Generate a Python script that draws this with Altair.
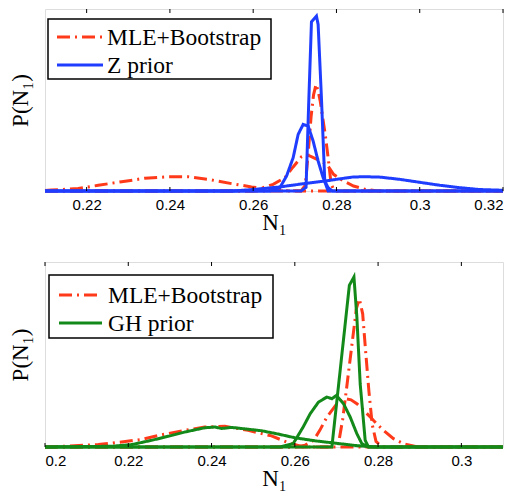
import altair as alt
import pandas as pd

# ---------------- values ----------------
top_ticks = [0.22, 0.24, 0.26, 0.28, 0.30, 0.32]
bot_ticks = [0.20, 0.22, 0.24, 0.26, 0.28, 0.30]

top_methods = ["MLE+Bootstrap", "Z prior"]
bot_methods = ["MLE+Bootstrap", "GH prior"]

# top panel: MLE+Bootstrap
t_mle_a_x = [0.210, 0.2116, 0.218, 0.2228, 0.2284, 0.234, 0.2396, 0.2444, 0.2492, 0.2548, 0.2596, 0.264, 0.268, 0.272, 0.320]
t_mle_a_y = [0.003, 0.005, 0.013, 0.031, 0.050, 0.069, 0.077, 0.077, 0.063, 0.040, 0.022, 0.008, 0.002, 0.0, 0.0]
t_mle_b_x = [0.210, 0.260, 0.2624, 0.2648, 0.2676, 0.2696, 0.2716, 0.2727, 0.2737, 0.2755, 0.2777, 0.2793, 0.2817, 0.2841, 0.287, 0.290, 0.320]
t_mle_b_y = [0.0, 0.0, 0.018, 0.036, 0.072, 0.130, 0.185, 0.195, 0.189, 0.170, 0.144, 0.090, 0.054, 0.027, 0.008, 0.0, 0.0]
t_mle_c_x = [0.210, 0.2715, 0.2725, 0.2732, 0.2739, 0.2745, 0.2751, 0.2756, 0.2761, 0.2773, 0.2781, 0.2787, 0.2795, 0.320]
t_mle_c_y = [0.0, 0.0, 0.030, 0.200, 0.400, 0.520, 0.577, 0.540, 0.486, 0.306, 0.162, 0.040, 0.0, 0.0]

# top panel: Z prior
t_pri_a_x = [0.210, 0.255, 0.260, 0.2664, 0.2729, 0.2776, 0.2809, 0.2841, 0.2872, 0.2905, 0.2952, 0.300, 0.3048, 0.3096, 0.3144, 0.320]
t_pri_a_y = [0.0, 0.0, 0.008, 0.022, 0.042, 0.055, 0.066, 0.076, 0.077, 0.075, 0.063, 0.047, 0.031, 0.018, 0.008, 0.004]
t_pri_b_x = [0.210, 0.264, 0.2664, 0.268, 0.2696, 0.2708, 0.272, 0.2732, 0.2744, 0.2756, 0.2768, 0.278, 0.279, 0.320]
t_pri_b_y = [0.0, 0.0, 0.018, 0.080, 0.180, 0.306, 0.360, 0.351, 0.270, 0.162, 0.072, 0.018, 0.0, 0.0]
t_pri_c_x = [0.210, 0.2715, 0.2727, 0.2733, 0.274, 0.2752, 0.2756, 0.2764, 0.2772, 0.278, 0.320]
t_pri_c_y = [0.0, 0.0, 0.020, 0.450, 0.915, 0.946, 0.900, 0.500, 0.050, 0.0, 0.0]

# bottom panel: MLE+Bootstrap
b_mle_a_x = [0.200, 0.2008, 0.2128, 0.2184, 0.2232, 0.228, 0.2336, 0.2384, 0.2432, 0.2488, 0.2544, 0.258, 0.262, 0.310]
b_mle_a_y = [0.0, 0.0, 0.013, 0.027, 0.041, 0.066, 0.090, 0.108, 0.112, 0.090, 0.060, 0.027, 0.0, 0.0]
b_mle_b_x = [0.200, 0.260, 0.2625, 0.2645, 0.266, 0.2677, 0.2701, 0.2721, 0.2735, 0.2749, 0.2765, 0.2781, 0.2797, 0.2813, 0.2837, 0.2861, 0.289, 0.292, 0.310]
b_mle_b_y = [0.0, 0.0, 0.010, 0.036, 0.090, 0.162, 0.234, 0.261, 0.255, 0.234, 0.200, 0.162, 0.125, 0.090, 0.045, 0.018, 0.003, 0.0, 0.0]
b_mle_c_x = [0.200, 0.269, 0.2705, 0.2715, 0.2725, 0.2737, 0.2748, 0.2755, 0.2763, 0.277, 0.2778, 0.2786, 0.2795, 0.281, 0.310]
b_mle_c_y = [0.0, 0.0, 0.020, 0.150, 0.330, 0.550, 0.750, 0.800, 0.720, 0.520, 0.300, 0.120, 0.030, 0.0, 0.0]

# bottom panel: GH prior
b_pri_a_x = [0.200, 0.216, 0.2208, 0.2256, 0.2296, 0.2336, 0.2384, 0.2408, 0.2424, 0.2448, 0.248, 0.252, 0.256, 0.260, 0.265, 0.270, 0.275, 0.280, 0.310]
b_pri_a_y = [0.0, 0.004, 0.013, 0.036, 0.058, 0.081, 0.104, 0.108, 0.100, 0.106, 0.098, 0.088, 0.070, 0.050, 0.033, 0.020, 0.007, 0.0, 0.0]
b_pri_b_x = [0.200, 0.2564, 0.2596, 0.262, 0.2637, 0.2657, 0.2677, 0.2689, 0.270, 0.2717, 0.2733, 0.2749, 0.2761, 0.2777, 0.310]
b_pri_b_y = [0.0, 0.0, 0.018, 0.108, 0.180, 0.243, 0.270, 0.261, 0.279, 0.234, 0.162, 0.072, 0.018, 0.0, 0.0]
b_pri_c_x = [0.200, 0.2689, 0.2731, 0.2742, 0.2749, 0.2757, 0.2769, 0.2777, 0.310]
b_pri_c_y = [0.0, 0.0, 0.874, 0.919, 0.703, 0.342, 0.036, 0.0, 0.0]

RED = "#ff3a1a"
BLUE = "#1f3dff"
GREEN = "#13891a"
DASHES = [[13, 5, 2, 5], [1, 0]]


def frame(method, curve, xs, ys):
    return pd.DataFrame({"method": method, "curve": curve, "x": xs, "y": ys})


top_mle = pd.concat([frame(top_methods[0], "a", t_mle_a_x, t_mle_a_y),
                     frame(top_methods[0], "b", t_mle_b_x, t_mle_b_y),
                     frame(top_methods[0], "c", t_mle_c_x, t_mle_c_y)])
top_pri = pd.concat([frame(top_methods[1], "a", t_pri_a_x, t_pri_a_y),
                     frame(top_methods[1], "b", t_pri_b_x, t_pri_b_y),
                     frame(top_methods[1], "c", t_pri_c_x, t_pri_c_y)])
bot_mle = pd.concat([frame(bot_methods[0], "a", b_mle_a_x, b_mle_a_y),
                     frame(bot_methods[0], "b", b_mle_b_x, b_mle_b_y),
                     frame(bot_methods[0], "c", b_mle_c_x, b_mle_c_y)])
bot_pri = pd.concat([frame(bot_methods[1], "a", b_pri_a_x, b_pri_a_y),
                     frame(bot_methods[1], "b", b_pri_b_x, b_pri_b_y),
                     frame(bot_methods[1], "c", b_pri_c_x, b_pri_c_y)])

SERIF = "Liberation Serif, Times New Roman, DejaVu Serif, serif"
SANS = "Liberation Sans"
W = 458


def legend_layers(methods, colors, box, rows, sym, text_x):
    one = pd.DataFrame({"k": [0]})
    layers = [alt.Chart(one).mark_rect(fill="white", stroke="black", strokeWidth=1.5).encode(
        x=alt.value(box[0]), x2=alt.value(box[1]), y=alt.value(box[2]), y2=alt.value(box[3]))]
    for m, c, d, r in zip(methods, colors, DASHES, rows):
        row_df = pd.DataFrame({"label": [m]})
        layers.append(alt.Chart(row_df).mark_rule(color=c, strokeWidth=3, strokeDash=d, strokeCap="butt").encode(
            x=alt.value(sym[0]), x2=alt.value(sym[1]), y=alt.value(r)))
        layers.append(alt.Chart(row_df).mark_text(
            font=SERIF, fontSize=23.5, fontWeight="normal", color="black", align="left", baseline="middle").encode(
            x=alt.value(text_x), y=alt.value(r + 1), text="label:N"))
    return layers


def panel(mle_df, pri_df, methods, prior_color, xdom, ticks, ydom, H, box, rows, sym, text_x):
    xs = alt.Scale(domain=xdom, nice=False, zero=False)
    ys = alt.Scale(domain=ydom, nice=False, zero=True)
    color = alt.Color("method:N", scale=alt.Scale(domain=methods, range=[RED, prior_color]), legend=None)
    dash = alt.StrokeDash("method:N", scale=alt.Scale(domain=methods, range=DASHES), legend=None)
    xenc = alt.X("x:Q", scale=xs, title="N₁",
                 axis=alt.Axis(values=ticks, format="~g", ticks=False, domain=False, grid=False,
                               labelFont=SANS, labelFontSize=15, labelColor="black", labelPadding=6,
                               titleFont=SERIF, titleFontSize=23, titleFontWeight="normal",
                               titleColor="black", titlePadding=-1))
    yenc = alt.Y("y:Q", scale=ys, title="P(N₁)",
                 axis=alt.Axis(labels=False, ticks=False, domain=False, grid=False,
                               titleFont=SERIF, titleFontSize=23, titleFontWeight="normal",
                               titleColor="black", titlePadding=13))
    l1 = alt.Chart(mle_df).mark_line(strokeWidth=3, strokeCap="butt").encode(
        x=xenc, y=yenc, color=color, strokeDash=dash, detail="curve:N")
    l2 = alt.Chart(pri_df).mark_line(strokeWidth=3).encode(
        x=xenc, y=yenc, color=color, strokeDash=dash, detail="curve:N")
    tick_df = pd.DataFrame({"t": ticks})
    tb = alt.Chart(tick_df).mark_rule(color="black", strokeWidth=1).encode(
        x=alt.X("t:Q", scale=xs), y=alt.value(H), y2=alt.value(H - 4))
    tt = alt.Chart(tick_df).mark_rule(color="black", strokeWidth=1).encode(
        x=alt.X("t:Q", scale=xs), y=alt.value(0), y2=alt.value(4))
    leg = legend_layers(methods, [RED, prior_color], box, rows, sym, text_x)
    return alt.layer(l1, l2, tb, tt, *leg).properties(width=W, height=H)


top = panel(top_mle, top_pri, top_methods, BLUE, [0.21, 0.32], top_ticks, [0, 0.984], 182,
            box=(3, 226, 10, 70), rows=(28, 56), sym=(12, 58), text_x=62)
bot = panel(bot_mle, bot_pri, bot_methods, GREEN, [0.20, 0.31], bot_ticks, [0, 1.0], 185,
            box=(4, 228, 13, 76), rows=(33, 61), sym=(14, 57), text_x=63)

chart = alt.vconcat(top, bot, spacing=26).resolve_scale(
    color="independent", strokeDash="independent", x="independent", y="independent"
).properties(padding={"left": 0, "top": 0, "right": 0, "bottom": 0}).configure_view(
    stroke="black", strokeWidth=1
).configure(background="white")

chart.save("out.html", embed_options={"renderer": "svg", "actions": False})
